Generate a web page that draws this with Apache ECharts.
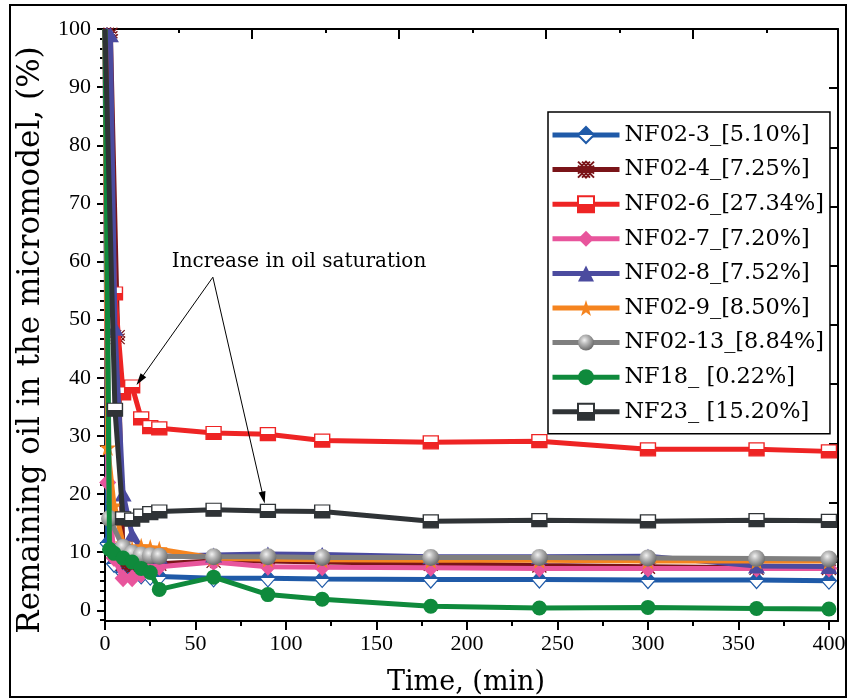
<!DOCTYPE html>
<html>
<head>
<meta charset="utf-8">
<script src="https://cdn.jsdelivr.net/npm/echarts@6/dist/echarts.min.js"></script>
<style>html,body{margin:0;padding:0;background:#fff}#c{width:851px;height:700px}</style>
</head>
<body>
<div id="c"></div>
<script>
// ---- Data (time in min, remaining oil in %) ----
const seriesNames = ['NF02-3_[5.10%]','NF02-4_[7.25%]','NF02-6_[27.34%]','NF02-7_[7.20%]','NF02-8_[7.52%]','NF02-9_[8.50%]','NF02-13_[8.84%]','NF18_ [0.22%]','NF23_ [15.20%]'];

const t_NF02_3 = [0, 1.5, 5, 10, 15, 20, 25, 30, 60, 90, 120, 180, 240, 300, 360, 400];
const y_NF02_3 = [100, 11.5, 8, 6.5, 6.2, 6, 5.8, 5.8, 5.5, 5.5, 5.4, 5.3, 5.3, 5.2, 5.2, 5.1];

const t_NF02_4 = [0, 3, 7, 10, 15, 20, 25, 30, 60, 90, 120, 180, 240, 300, 360, 400];
const y_NF02_4 = [100, 99, 47, 8, 7.5, 7.5, 7.8, 8, 8.5, 8.5, 8.3, 8, 7.7, 7.5, 7.3, 7.25];

const t_NF02_6 = [0, 5.5, 10, 15, 20, 25, 30, 60, 90, 120, 180, 240, 300, 360, 400];
const y_NF02_6 = [100, 54.5, 37.3, 38.5, 33, 31.5, 31.3, 30.5, 30.3, 29.2, 28.9, 29.1, 27.7, 27.7, 27.34];

const t_NF02_7 = [0, 1.5, 5, 10, 15, 20, 25, 30, 60, 90, 120, 180, 240, 300, 360, 400];
const y_NF02_7 = [100, 22, 9, 5.5, 5.5, 6.2, 7, 7.5, 8.3, 7.5, 7.4, 7.3, 7.2, 7.2, 7.2, 7.2];

const t_NF02_8 = [0, 3, 5.5, 10, 15, 20, 25, 30, 60, 90, 120, 180, 240, 300, 360, 400];
const y_NF02_8 = [100, 99, 48.5, 20, 13, 10.5, 9.5, 9.3, 9.5, 9.7, 9.6, 9.2, 9.2, 9.3, 7.6, 7.52];

const t_NF02_9 = [0, 1.5, 5, 10, 15, 20, 25, 30, 60, 90, 120, 180, 240, 300, 360, 400];
const y_NF02_9 = [100, 28, 18, 11.5, 10.5, 11, 10.8, 10.5, 9, 8.8, 8.7, 8.6, 8.6, 8.5, 8.5, 8.5];

const t_NF02_13 = [0, 2.5, 10, 15, 20, 25, 30, 60, 90, 120, 180, 240, 300, 360, 400];
const y_NF02_13 = [100, 15.8, 10.8, 9.8, 9.5, 9.4, 9.3, 9.2, 9.2, 9.1, 9.1, 9.1, 9.0, 8.9, 8.84];

const t_NF18 = [0, 2.5, 5, 10, 15, 20, 25, 30, 60, 90, 120, 180, 240, 300, 360, 400];
const y_NF18 = [100, 10.5, 9.8, 9, 8.3, 7.2, 6.5, 3.6, 5.7, 2.7, 1.9, 0.7, 0.4, 0.5, 0.3, 0.22];

const t_NF23 = [0, 5.5, 10, 15, 20, 25, 30, 60, 90, 120, 180, 240, 300, 360, 400];
const y_NF23 = [100, 34.5, 15.8, 15.6, 16.3, 16.7, 17, 17.3, 17.1, 17, 15.3, 15.5, 15.3, 15.5, 15.4];

const xTickLabels = [0, 50, 100, 150, 200, 250, 300, 350, 400];
const yTickLabels = [0, 10, 20, 30, 40, 50, 60, 70, 80, 90, 100];

const annotationText = 'Increase in oil saturation';
const xTitle = 'Time, (min)';
const yTitle = 'Remaining oil in the micromodel, (%)';

// ---- Build ----
const chart = echarts.init(document.getElementById('c'), null, {renderer: 'canvas'});
const G = echarts.graphic;
function half(topC, botC) {
  return new G.LinearGradient(0, 0, 0, 1, [
    {offset: 0, color: topC}, {offset: 0.5, color: topC},
    {offset: 0.5, color: botC}, {offset: 1, color: botC}]);
}
// first point (t = 0) is drawn without a marker, as in the reference
const pairs = (t, y) => t.map((v, i) => i === 0 ? {value: [v, y[i]], symbol: 'none'} : [v, y[i]]);

const xMinor = [];
for (let v = 25; v < 405; v += 50) xMinor.push(v);
const yMinor = [];
for (let k = -1; k <= 59; k++) { if (k % 6 !== 0) yMinor.push(k * 10 / 6); }

const starPath = 'path://M5,0 L6.2,3.6 L10,3.6 L7,5.9 L8.1,9.5 L5,7.3 L1.9,9.5 L3,5.9 L0,3.6 L3.8,3.6 Z';
const hatchPath = 'path://M0,0 L10,10 M10,0 L0,10 M5,0 L10,5 L5,10 L0,5 Z M2.5,0 L10,7.5 M7.5,0 L0,7.5 M0,2.5 L7.5,10 M10,2.5 L2.5,10';

const defs = [
  {t: t_NF02_3, y: y_NF02_3, line: '#1f5aa8', symbol: 'diamond', size: [15, 17], item: {color: half('#1f5aa8', '#ffffff'), borderColor: '#1f5aa8', borderWidth: 1.2}},
  {t: t_NF02_4, y: y_NF02_4, line: '#7a1418', symbol: hatchPath, size: 14, item: {color: 'rgba(255,255,255,0)', borderColor: '#7a1418', borderWidth: 1.3}},
  {t: t_NF02_6, y: y_NF02_6, line: '#ee2424', symbol: 'rect', size: [15, 13], item: {color: half('#ffffff', '#ee2424'), borderColor: '#ee2424', borderWidth: 1.3}},
  {t: t_NF02_7, y: y_NF02_7, line: '#e8559c', symbol: 'diamond', size: [17, 18], item: {color: '#e8559c', borderColor: '#e8559c', borderWidth: 0}},
  {t: t_NF02_8, y: y_NF02_8, line: '#4b4b9f', symbol: 'triangle', size: [17, 15], item: {color: '#4b4b9f', borderColor: '#4b4b9f', borderWidth: 0}},
  {t: t_NF02_9, y: y_NF02_9, line: '#f5841f', symbol: starPath, size: 17, item: {color: '#f5841f', borderColor: '#f5841f', borderWidth: 0}},
  {t: t_NF02_13, y: y_NF02_13, line: '#7f7f7f', symbol: 'circle', size: 17, item: {color: new G.RadialGradient(0.4, 0.35, 0.65, [{offset: 0, color: '#f2f2f2'}, {offset: 0.35, color: '#bdbdbd'}, {offset: 1, color: '#6a6a6a'}]), borderWidth: 0}},
  {t: t_NF18, y: y_NF18, line: '#0f8a3c', symbol: 'circle', size: 15, item: {color: '#0f8a3c', borderWidth: 0}},
  {t: t_NF23, y: y_NF23, line: '#2f3336', symbol: 'rect', size: [15, 13], item: {color: half('#ffffff', '#2f3336'), borderColor: '#2f3336', borderWidth: 1.3}}
];

const series = defs.map((d, i) => ({
  name: seriesNames[i],
  type: 'line',
  xAxisIndex: 0, yAxisIndex: 0,
  data: pairs(d.t, d.y),
  symbol: d.symbol,
  symbolSize: d.size,
  showAllSymbol: true,
  lineStyle: {color: d.line, width: 5},
  itemStyle: d.item,
  emphasis: {disabled: true},
  animation: false,
  z: 2 + i
}));

// annotation arrows (data coordinates)
series.push({
  name: 'annot', type: 'line', xAxisIndex: 0, yAxisIndex: 0, data: [],
  silent: true, animation: false, z: 20,
  markLine: {
    silent: true, animation: false,
    symbol: ['none', 'triangle'], symbolSize: [7, 12],
    label: {show: false},
    lineStyle: {color: '#000', width: 1, type: 'solid'},
    emphasis: {disabled: true},
    data: [
      [{coord: [59.6, 57.3]}, {coord: [19.3, 39.6]}],
      [{coord: [59.6, 57.3]}, {coord: [87.5, 19.4]}]
    ]
  }
});

const fontNum = 'Liberation Serif';
const fontTxt = 'DejaVu Serif';
const axLine = {show: true, onZero: false, lineStyle: {color: '#000', width: 2}};
const tickStyle = {color: '#000', width: 2};

const option = {
  backgroundColor: '#fff',
  animation: false,
  grid: {left: 105, right: 13, top: 29, bottom: 79, containLabel: false},
  xAxis: [
    {type: 'value', position: 'bottom', min: 0, max: 405,
     axisLine: axLine,
     axisTick: {show: true, inside: false, length: 9, lineStyle: tickStyle, customValues: xTickLabels},
     axisLabel: {show: true, customValues: xTickLabels, margin: 12, fontFamily: fontNum, fontSize: 22, color: '#000'},
     splitLine: {show: false}},
    {type: 'value', position: 'bottom', min: 0, max: 405,
     axisLine: {show: false, onZero: false},
     axisTick: {show: true, inside: false, length: 5, lineStyle: tickStyle, customValues: xMinor},
     axisLabel: {show: false}, splitLine: {show: false}},
    {type: 'value', position: 'top', min: 0, max: 4.986,
     axisLine: axLine,
     axisTick: {show: true, inside: true, length: 10, lineStyle: tickStyle, customValues: [0, 1, 2, 3, 4]},
     axisLabel: {show: false}, splitLine: {show: false}},
    {type: 'value', position: 'top', min: 0, max: 4.986,
     axisLine: {show: false, onZero: false},
     axisTick: {show: true, inside: true, length: 4, lineStyle: tickStyle, customValues: [0.5, 1.5, 2.5, 3.5, 4.5]},
     axisLabel: {show: false}, splitLine: {show: false}}
  ],
  yAxis: [
    {type: 'value', position: 'left', min: -1.84, max: 100,
     axisLine: axLine,
     axisTick: {show: true, inside: false, length: 8, lineStyle: tickStyle, customValues: yTickLabels},
     axisLabel: {show: true, customValues: yTickLabels, margin: 14, fontFamily: fontNum, fontSize: 22, color: '#000'},
     splitLine: {show: false}},
    {type: 'value', position: 'left', min: -1.84, max: 100,
     axisLine: {show: false, onZero: false},
     axisTick: {show: true, inside: false, length: 5, lineStyle: tickStyle, customValues: yMinor},
     axisLabel: {show: false}, splitLine: {show: false}},
    {type: 'value', position: 'right', min: 0, max: 10,
     axisLine: axLine,
     axisTick: {show: true, inside: true, length: 9, lineStyle: tickStyle, customValues: [1, 2, 3, 4, 5, 6, 7, 8, 9]},
     axisLabel: {show: false}, splitLine: {show: false}}
  ],
  legend: {
    data: seriesNames,
    orient: 'vertical',
    left: 548, top: 112,
    itemWidth: 67, itemHeight: 20, itemGap: 10.6,
    padding: [11, 6, 10, 2],
    borderColor: '#000', borderWidth: 1.5, backgroundColor: '#fff',
    lineStyle: {width: 5},
    textStyle: {fontFamily: fontTxt, fontSize: 22.4, lineHeight: 24, color: '#000'},
    selectedMode: false,
    z: 30
  },
  graphic: [
    {type: 'rect', shape: {x: 10, y: 5, width: 836, height: 692}, style: {fill: 'none', stroke: '#000', lineWidth: 2}, silent: true, z: 100},
    {type: 'text', x: 466, y: 683, style: {text: xTitle, font: '27px "' + fontTxt + '"', fill: '#000', textAlign: 'center', textVerticalAlign: 'middle', align: 'center', verticalAlign: 'middle'}, silent: true},
    {type: 'text', x: 31, y: 340, rotation: Math.PI / 2, style: {text: yTitle, font: '31px "' + fontTxt + '"', fill: '#000', textAlign: 'center', textVerticalAlign: 'middle', align: 'center', verticalAlign: 'middle'}, silent: true},
    {type: 'text', x: 299, y: 262, style: {text: annotationText, font: '20px "' + fontTxt + '"', fill: '#000', textAlign: 'center', textVerticalAlign: 'middle', align: 'center', verticalAlign: 'middle'}, silent: true, z: 50}
  ],
  series: series
};
chart.setOption(option);
</script>
</body>
</html>
